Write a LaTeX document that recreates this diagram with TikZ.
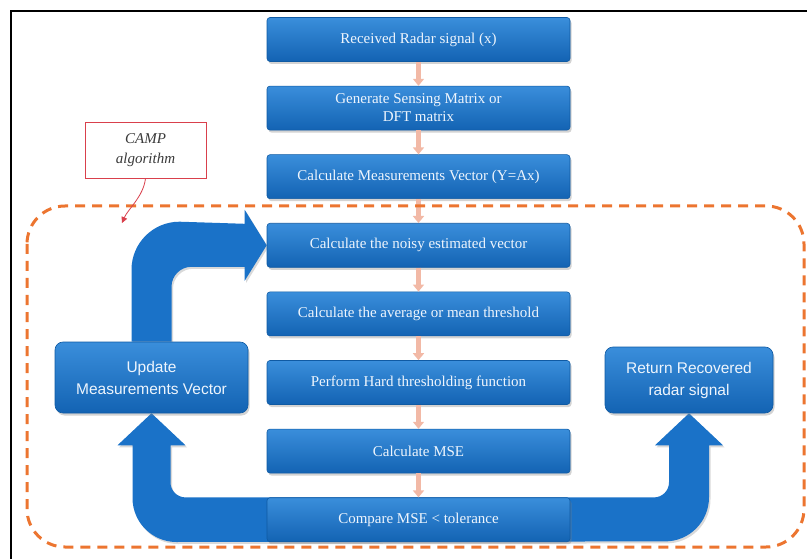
\documentclass[tikz,border=0pt]{standalone}
\usepackage{fontspec}
\setmainfont{Liberation Serif}
\setsansfont{Liberation Sans}
\usetikzlibrary{arrows.meta,positioning,calc,shadows,backgrounds}
\definecolor{radblue}{HTML}{1A72C8}
\definecolor{radbluetop}{HTML}{3A8EDB}
\definecolor{radbluebot}{HTML}{1363B3}
\definecolor{radedge}{HTML}{0F5AA3}
\definecolor{radtext}{HTML}{EEF5FD}
\definecolor{radsalmon}{HTML}{F2B9A6}
\definecolor{radorange}{HTML}{EC7530}
\definecolor{radred}{HTML}{D9404C}
\definecolor{radink}{HTML}{3A3A3A}
\tikzset{
  radbox/.style={draw=radedge, line width=0.6pt, rounded corners=3pt,
    top color=radbluetop, bottom color=radbluebot, text=radtext, align=center,
    minimum width=303pt, minimum height=44pt, inner sep=2pt,
    font=\fontsize{15}{18}\selectfont,
    drop shadow={shadow xshift=1.5pt, shadow yshift=-2.5pt, opacity=0.35}},
  radside/.style={radbox, rounded corners=8pt, font=\sffamily\fontsize{15.5}{22}\selectfont},
  radstep/.style={-{Triangle[length=7pt,width=11pt]}, line width=4.5pt, draw=radsalmon},
  radblock/.style={fill=radblue,
    drop shadow={shadow xshift=1.5pt, shadow yshift=-2pt, opacity=0.3}},
  radloop/.style={draw=radorange, line width=3pt, dash pattern=on 10pt off 7pt,
    rounded corners=38pt},
  radnote/.style={draw=radred, line width=0.8pt, fill=white, minimum width=121pt,
    minimum height=56pt, align=center, text=radink, inner sep=2pt,
    font=\itshape\fontsize{15}{20}\selectfont},
  radpoint/.style={-{Triangle[length=6pt,width=6pt]}, draw=radred, line width=0.8pt},
}

\begin{document}
\begin{tikzpicture}[x=1pt, y=-1pt, node distance=24pt]
  \useasboundingbox (0,0) rectangle (807,559);
  \draw[line width=2.2pt] (11,559) -- (11,11) -- (807,11);
  % main chain
  \node[radbox] (recv) at (418.5,39.5) {Received Radar signal (x)};
  \node[radbox, below=of recv] (gen) {Generate Sensing Matrix or\\DFT matrix};
  \node[radbox, below=of gen] (meas) {Calculate Measurements Vector (Y=Ax)};
  \node[radbox, below=of meas] (est) {Calculate the noisy estimated vector};
  \node[radbox, below=of est] (thr) {Calculate the average or mean threshold};
  \node[radbox, below=of thr] (hard) {Perform Hard thresholding function};
  \node[radbox, below=of hard] (mse) {Calculate MSE};
  \node[radbox, below=of mse] (cmp) {Compare MSE < tolerance};
  % side boxes
  \node[radside, minimum width=193pt, minimum height=71pt] (upd) at (151.5,377.5)
    {Update\\Measurements Vector};
  \node[radside, minimum width=168pt, minimum height=66pt] (ret) at (689,380)
    {Return Recovered\\radar signal};
  \foreach \a/\b in {recv/gen, gen/meas, meas/est, est/thr, thr/hard, hard/mse, mse/cmp}
    \draw[radstep] (\a.south) -- (\b.north);
  % loop region
  \draw[radloop] (27,206) rectangle (804,547);
  \node[radnote] (camp) at (145.5,150) {CAMP\\algorithm};
  \coordinate (campend) at (122,223);
  \draw[radpoint] (camp.south) .. controls +(-2,18) and +(6,-14) .. (campend);
  \begin{pgfonlayer}{background}
    % feedback arrow into the estimation step
    \fill[radblock] ($(upd.north)+(-20,0)$) -- ++(0,-72)
      arc[start angle=180, end angle=270, radius=48]
      -- ($(est.west)+(-22,-21.5)$) -- ++(0,-14) -- (est.west)
      -- ($(est.west)+(-22,35.5)$) -- ++(0,-14)
      -- ($(upd.north |- est.west)+(40,21.5)$)
      arc[start angle=270, end angle=180, radius=20]
      -- ($(upd.north)+(20,0)$) -- cycle;
    % decision band
    \fill[radblock] ($(upd.south)+(-19,32)$) -- ++(-15,0) -- (upd.south)
      -- ($(upd.south)+(34,32)$) -- ++(-15,0)
      -- ($(upd.south |- cmp.north)+(19,-15)$)
      arc[start angle=180, end angle=90, radius=15]
      -- ($(ret.south |- cmp.north)+(-35,0)$)
      arc[start angle=90, end angle=0, radius=15]
      -- ($(ret.south)+(-20,32)$) -- ++(-14,0) -- (ret.south)
      -- ($(ret.south)+(34,32)$) -- ++(-14,0)
      -- ($(ret.south |- cmp.north)+(20,0)$)
      arc[start angle=0, end angle=90, radius=44]
      -- ($(upd.south |- cmp.south)+(25,0)$)
      arc[start angle=90, end angle=180, radius=44] -- cycle;
  \end{pgfonlayer}
\end{tikzpicture}
\end{document}
